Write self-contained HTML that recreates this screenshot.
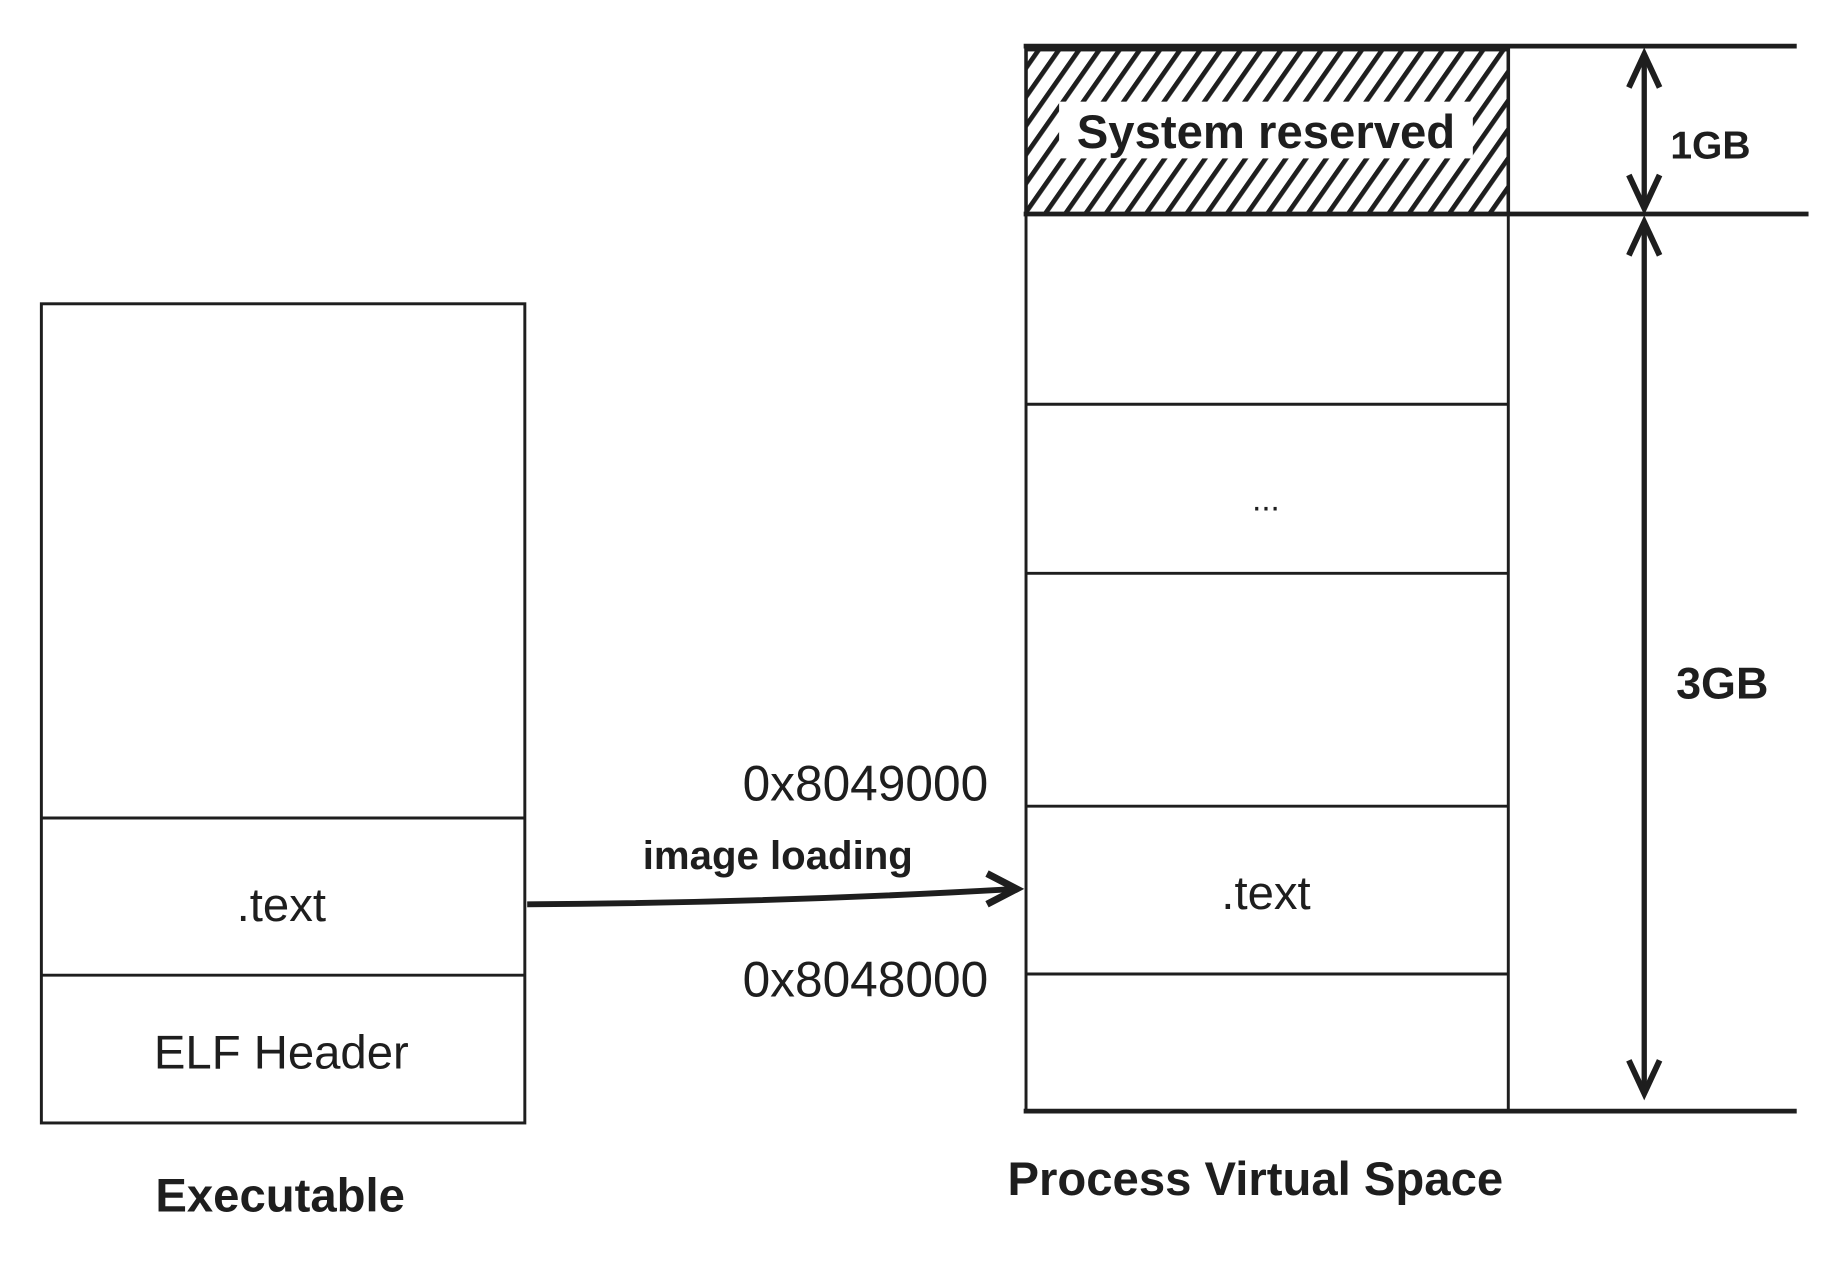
<!DOCTYPE html>
<html><head><meta charset="utf-8"><style>
html,body{margin:0;padding:0;background:#fff;}
svg{display:block;}
text{font-family:"Liberation Sans",sans-serif;fill:#1e1e1e;}
.b{font-weight:bold;}
</style></head><body>
<svg width="1844" height="1268" viewBox="0 0 1560 1072.7" preserveAspectRatio="none" xmlns="http://www.w3.org/2000/svg">
<defs>
<pattern id="h" width="14" height="14" patternUnits="userSpaceOnUse" patternTransform="rotate(35)">
<rect width="14" height="14" fill="#fff"/>
<rect x="0" y="0" width="4" height="14" fill="#1e1e1e"/>
</pattern>
</defs>
<g stroke="#1e1e1e" fill="none" stroke-width="2.5">
<rect x="35" y="257" width="409" height="693"/>
<line x1="35" y1="692" x2="444" y2="692"/>
<line x1="35" y1="825" x2="444" y2="825"/>
<rect x="868" y="42" width="408" height="139" fill="url(#h)" stroke-width="3"/>
<line x1="868" y1="40" x2="868" y2="940"/>
<line x1="1276" y1="40" x2="1276" y2="940"/>
<line x1="868" y1="342" x2="1276" y2="342"/>
<line x1="868" y1="485" x2="1276" y2="485"/>
<line x1="868" y1="682" x2="1276" y2="682"/>
<line x1="868" y1="824" x2="1276" y2="824"/>
<line x1="866" y1="39" x2="1520" y2="39" stroke-width="4"/>
<line x1="866" y1="181" x2="1530" y2="181" stroke-width="4"/>
<line x1="866" y1="940" x2="1520" y2="940" stroke-width="4"/>
<line x1="1391" y1="46" x2="1391" y2="176" stroke-width="4.5"/>
<polyline points="1378,74 1391,46 1404,74" stroke-width="5"/>
<polyline points="1378,148 1391,176 1404,148" stroke-width="5"/>
<line x1="1391" y1="188" x2="1391" y2="925" stroke-width="4.5"/>
<polyline points="1378,216 1391,188 1404,216" stroke-width="5"/>
<polyline points="1378,897 1391,925 1404,897" stroke-width="5"/>
<path d="M446 765 Q650 764 860 752" stroke-width="5"/>
<polyline points="835,739 860,752 835,765" stroke-width="6"/>
</g>
<rect x="896" y="86" width="350" height="48" fill="#fff"/>
<text x="1071" y="125" font-size="40" text-anchor="middle" class="b">System reserved</text>
<text x="1447" y="134" font-size="33" text-anchor="middle" class="b">1GB</text>
<text x="1457" y="591" font-size="38" text-anchor="middle" class="b">3GB</text>
<text x="1071" y="432" font-size="28" text-anchor="middle">...</text>
<text x="1071" y="769" font-size="40" text-anchor="middle">.text</text>
<text x="238" y="779" font-size="40" text-anchor="middle">.text</text>
<text x="238" y="904" font-size="40" text-anchor="middle">ELF Header</text>
<text x="237" y="1025" font-size="40" text-anchor="middle" class="b">Executable</text>
<text x="1062" y="1011" font-size="40" text-anchor="middle" class="b">Process Virtual Space</text>
<text x="836" y="677" font-size="42" text-anchor="end">0x8049000</text>
<text x="836" y="843" font-size="42" text-anchor="end">0x8048000</text>
<text x="658" y="735" font-size="34" text-anchor="middle" class="b">image loading</text>
</svg>
</body></html>
